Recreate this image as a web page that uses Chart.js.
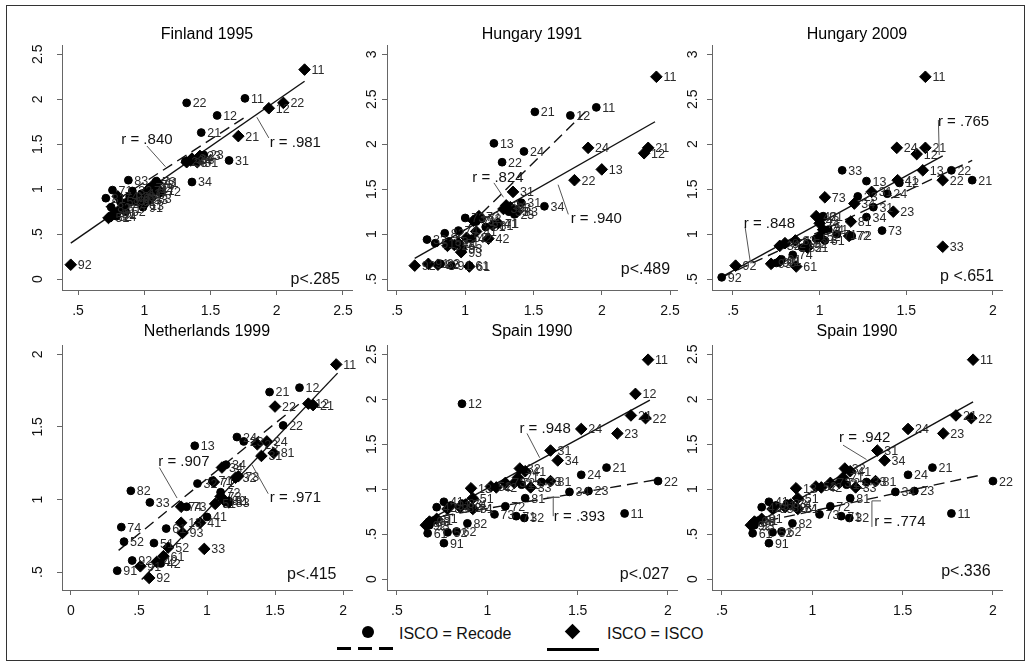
<!DOCTYPE html>
<html>
<head>
<meta charset="utf-8">
<script src="https://cdn.jsdelivr.net/npm/chart.js@4.4.1/dist/chart.umd.min.js"></script>
<style>
  body { margin: 0; background: #fff; width: 1031px; height: 667px; overflow: hidden; position: relative;
         font-family: "Liberation Sans", Arial, sans-serif; }
  #frame { position: absolute; left: 6px; top: 5px; width: 1017px; height: 654px; border: 1px solid #333; }
  canvas { position: absolute; }
  .leg { position: absolute; background: #000; }
  .legtxt { position: absolute; font-size: 16px; line-height: 18px; color: #111; white-space: nowrap; }
</style>
</head>
<body>
<div id="frame"></div>

<div class="leg" style="left:362px;top:626px;width:12px;height:12px;border-radius:50%"></div>
<div class="leg" style="left:337px;top:647px;width:14px;height:2.5px"></div>
<div class="leg" style="left:358px;top:647px;width:14px;height:2.5px"></div>
<div class="leg" style="left:379px;top:647px;width:14px;height:2.5px"></div>
<div class="legtxt" style="left:399px;top:625px">ISCO = Recode</div>
<div class="leg" style="left:567px;top:626px;width:11px;height:11px;transform:rotate(45deg)"></div>
<div class="leg" style="left:547px;top:648px;width:52px;height:2.5px"></div>
<div class="legtxt" style="left:607px;top:625px">ISCO = ISCO</div>

<script>
// tick values
const finXTicks = [0.5, 1, 1.5, 2, 2.5];
const finYTicks = [0, 0.5, 1, 1.5, 2, 2.5];
const hu91XTicks = [0.5, 1, 1.5, 2, 2.5];
const hu91YTicks = [0.5, 1, 1.5, 2, 2.5, 3];
const hu09XTicks = [0.5, 1, 1.5, 2];
const hu09YTicks = [0.5, 1, 1.5, 2, 2.5, 3];
const nlXTicks = [0, 0.5, 1, 1.5, 2];
const nlYTicks = [0.5, 1, 1.5, 2];
const esXTicks = [0.5, 1, 1.5, 2];
const esYTicks = [0, 0.5, 1, 1.5, 2, 2.5];

// [x, y, isco code]
const finRecode = [[1.76,2.01,'11'],[1.55,1.82,'12'],[1.32,1.96,'22'],[1.43,1.63,'21'],[1.64,1.32,'31'],
  [1.36,1.08,'34'],[0.88,1.10,'83'],[1.45,1.38,'23'],[1.31,1.31,'24'],[1.38,1.33,'33'],[1.09,1.09,'73'],
  [1.04,1.02,'72'],[1.08,0.98,'41'],[0.98,0.95,'42'],[0.91,0.98,'32'],[0.76,0.99,'71'],[0.71,0.90,'81'],
  [0.75,0.80,'82'],[0.82,0.86,'51'],[0.86,0.75,'52'],[0.79,0.70,'74'],[0.94,0.86,'61'],[0.99,0.80,'91'],
  [0.89,0.92,'93'],[1.03,0.88,'13']];
const finIsco = [[2.21,2.33,'11'],[1.94,1.90,'12'],[2.05,1.96,'22'],[1.71,1.59,'21'],[0.445,0.16,'92'],
  [1.42,1.37,'23'],[1.36,1.34,'24'],[1.40,1.30,'31'],[1.32,1.30,'33'],[1.35,1.32,'34'],[1.10,1.07,'41'],
  [1.06,1.02,'42'],[1.12,0.97,'72'],[1.07,1.05,'73'],[1.02,0.98,'71'],[0.98,0.92,'81'],[1.05,0.90,'83'],
  [0.75,0.70,'32'],[0.73,0.68,'52'],[0.82,0.78,'51'],[0.78,0.73,'61'],[0.86,0.84,'82'],[0.90,0.87,'91'],
  [0.94,0.90,'93'],[0.80,0.92,'74'],[0.99,0.82,'13']];
const finRecodeFit = [[0.71,0.80],[1.76,1.80]];
const finIscoFit = [[0.445,0.40],[2.21,2.20]];

const hu91Recode = [[1.96,2.41,'11'],[1.77,2.32,'12'],[1.51,2.36,'21'],[1.21,2.01,'13'],[1.43,1.92,'24'],
  [1.27,1.80,'22'],[1.58,1.31,'34'],[1.41,1.35,'31'],[1.32,1.25,'33'],[1.36,1.22,'23'],[1.24,1.12,'41'],
  [1.12,1.17,'72'],[1.08,1.14,'71'],[1.00,1.18,'73'],[0.95,1.04,'74'],[0.85,1.01,'82'],[0.72,0.94,'32'],
  [0.88,0.92,'52'],[0.98,0.84,'93'],[0.90,0.65,'91'],[1.03,0.65,'61'],[1.05,0.95,'42'],[0.78,0.90,'51'],
  [1.15,1.08,'81'],[0.82,0.67,'83']];
const hu91Isco = [[2.40,2.75,'11'],[2.31,1.90,'12'],[2.34,1.96,'21'],[1.90,1.96,'24'],[2.00,1.72,'13'],
  [1.80,1.60,'22'],[1.35,1.47,'31'],[1.30,1.32,'34'],[1.28,1.28,'33'],[1.33,1.30,'23'],[1.38,1.25,'83'],
  [1.24,1.12,'71'],[1.17,0.95,'42'],[1.20,1.10,'81'],[1.10,1.20,'72'],[1.06,1.15,'73'],[1.08,1.03,'41'],
  [1.01,0.96,'52'],[0.95,0.90,'51'],[0.87,0.87,'32'],[0.97,0.80,'93'],[0.63,0.65,'92'],[0.73,0.67,'91'],
  [0.80,0.66,'82'],[1.03,0.64,'61'],[0.92,0.88,'74']];
const hu91RecodeFit = [[0.85,0.83],[1.88,2.36]];
const hu91IscoFit = [[0.63,0.73],[2.39,2.25]];

const hu09Recode = [[1.88,1.60,'21'],[1.76,1.71,'22'],[1.46,1.57,'12'],[1.27,1.59,'13'],[1.13,1.71,'33'],
  [1.39,1.45,'24'],[1.31,1.30,'31'],[1.27,1.19,'34'],[1.36,1.04,'73'],[1.22,1.42,'23'],[1.185,0.98,'72'],
  [1.10,1.00,'71'],[1.05,1.05,'41'],[1.00,1.15,'42'],[0.98,0.95,'51'],[0.93,0.90,'52'],[0.845,0.77,'74'],
  [0.78,0.72,'91'],[0.435,0.52,'92'],[0.90,0.85,'82'],[1.02,1.20,'81'],[0.75,0.68,'93'],[1.03,0.93,'61']];
const hu09Isco = [[1.61,2.75,'11'],[1.445,1.96,'24'],[1.61,1.96,'21'],[1.56,1.89,'12'],[1.595,1.71,'13'],
  [1.71,1.60,'22'],[1.71,0.86,'33'],[1.425,1.25,'23'],[1.03,1.41,'73'],[1.18,1.14,'81'],[1.17,0.98,'72'],
  [1.20,1.34,'34'],[1.30,1.47,'31'],[1.45,1.60,'41'],[0.98,1.20,'42'],[1.00,1.12,'71'],[1.02,1.05,'74'],
  [1.00,0.97,'52'],[0.93,0.85,'51'],[0.86,0.93,'83'],[0.80,0.90,'82'],[0.77,0.87,'32'],[0.865,0.64,'61'],
  [0.72,0.67,'93'],[0.77,0.70,'91'],[0.515,0.65,'92']];
const hu09RecodeFit = [[0.435,0.52],[1.88,1.82]];
const hu09IscoFit = [[0.43,0.52],[1.71,1.87]];

const nlRecode = [[1.68,1.77,'12'],[1.46,1.74,'21'],[1.56,1.51,'22'],[1.22,1.43,'24'],[0.91,1.37,'13'],
  [1.14,1.24,'34'],[0.93,1.11,'32'],[0.44,1.06,'82'],[0.58,0.98,'33'],[0.37,0.81,'74'],[0.70,0.80,'61'],
  [0.39,0.71,'52'],[0.61,0.70,'51'],[0.45,0.58,'92'],[0.34,0.51,'91'],[1.04,1.13,'71'],[1.10,1.05,'72'],
  [1.16,0.99,'81'],[0.85,0.95,'73'],[1.27,1.40,'23'],[0.66,0.56,'42'],[1.00,0.88,'41']];
const nlIsco = [[1.95,1.93,'11'],[1.745,1.66,'12'],[1.78,1.65,'21'],[1.50,1.64,'22'],[1.44,1.40,'24'],
  [1.37,1.38,'23'],[1.40,1.30,'31'],[1.49,1.32,'81'],[1.11,1.22,'34'],[1.21,1.15,'32'],[1.23,1.16,'73'],
  [1.05,1.12,'71'],[1.10,1.02,'72'],[1.13,0.99,'82'],[1.16,0.98,'83'],[1.06,0.97,'51'],[0.81,0.95,'74'],
  [0.95,0.84,'41'],[0.81,0.84,'13'],[0.82,0.77,'93'],[0.98,0.66,'33'],[0.715,0.67,'52'],[0.68,0.61,'61'],
  [0.63,0.57,'42'],[0.51,0.54,'91'],[0.575,0.46,'92']];
const nlRecodeFit = [[0.35,0.65],[1.68,1.66]];
const nlIscoFit = [[0.52,0.45],[1.96,1.87]];

const esRecode = [[0.86,1.95,'12'],[1.945,1.09,'22'],[1.66,1.24,'21'],[1.52,1.16,'24'],[1.76,0.73,'11'],
  [1.56,0.98,'23'],[1.455,0.97,'34'],[1.21,0.90,'81'],[1.205,0.68,'32'],[1.10,0.81,'72'],[1.16,0.70,'71'],
  [1.04,0.72,'73'],[0.89,0.62,'82'],[0.83,0.53,'62'],[0.76,0.40,'91'],[0.67,0.51,'61'],[0.78,0.52,'52'],
  [0.76,0.86,'41'],[0.72,0.80,'42'],[0.80,0.82,'31'],[0.70,0.65,'51'],[1.30,1.08,'33'],[1.19,1.05,'13'],
  [0.92,0.78,'74'],[0.68,0.60,'93'],[0.86,0.84,'83']];
const esIsco = [[1.89,2.44,'11'],[1.82,2.06,'12'],[1.795,1.82,'21'],[1.876,1.79,'22'],[1.72,1.62,'23'],
  [1.52,1.67,'24'],[1.35,1.43,'31'],[1.39,1.32,'34'],[1.35,1.09,'81'],[1.24,1.02,'33'],[0.91,1.01,'13'],
  [1.05,1.02,'42'],[1.18,1.23,'32'],[1.21,1.20,'41'],[1.17,1.13,'71'],[1.15,1.07,'72'],[1.10,1.07,'73'],
  [1.02,1.03,'52'],[0.92,0.90,'51'],[0.88,0.83,'74'],[0.78,0.78,'83'],[0.85,0.80,'82'],[0.72,0.67,'91'],
  [0.66,0.60,'92'],[0.68,0.64,'93'],[0.92,0.78,'61']];
const esRecodeFit = [[0.66,0.67],[1.965,1.115]];
const esIscoFit = [[0.66,0.64],[1.90,1.99]];

const es2Recode = [[2.00,1.09,'22'],[1.665,1.24,'21'],[1.53,1.16,'24'],[1.77,0.73,'11'],[1.565,0.98,'23'],
  [1.46,0.97,'34'],[1.21,0.90,'81'],[1.205,0.68,'32'],[1.10,0.81,'72'],[1.16,0.70,'71'],[1.04,0.72,'73'],
  [0.89,0.62,'82'],[0.83,0.53,'62'],[0.76,0.40,'91'],[0.67,0.51,'61'],[0.78,0.52,'52'],[0.76,0.86,'41'],
  [0.72,0.80,'42'],[0.80,0.82,'31'],[0.70,0.65,'51'],[1.30,1.08,'33'],[1.19,1.05,'13'],[0.92,0.78,'74'],
  [0.68,0.60,'93'],[0.86,0.84,'83']];
const es2Isco = [[1.89,2.44,'11'],[1.795,1.82,'21'],[1.88,1.79,'22'],[1.725,1.62,'23'],[1.53,1.67,'24'],
  [1.36,1.43,'31'],[1.40,1.32,'34'],[1.35,1.09,'81'],[1.24,1.02,'33'],[0.91,1.01,'13'],[1.05,1.02,'42'],
  [1.18,1.23,'32'],[1.21,1.20,'41'],[1.17,1.13,'71'],[1.15,1.07,'72'],[1.10,1.07,'73'],[1.02,1.03,'52'],
  [0.92,0.90,'51'],[0.88,0.83,'74'],[0.78,0.78,'83'],[0.85,0.80,'82'],[0.72,0.67,'91'],[0.66,0.60,'92'],
  [0.68,0.64,'93'],[0.92,0.78,'61']];
const es2RecodeFit = [[0.66,0.61],[1.94,1.16]];
const es2IscoFit = [[0.66,0.59],[1.89,1.97]];

const panels = [
  { title: 'Finland 1995', left: 10, top: 8, row: 0, yPad: 9, x: [0.379, 2.568], y: [-0.121, 2.599],
    xTicks: finXTicks, yTicks: finYTicks, recode: finRecode, isco: finIsco, recodeFit: finRecodeFit, iscoFit: finIscoFit,
    notes: [{ t: 'r = .840', at: [1.02, 1.55], line: [[1.02, 1.48], [1.16, 1.25]] },
            { t: 'r = .981', at: [2.14, 1.52], line: [[1.94, 1.57], [1.85, 1.80]] }],
    pv: { t: 'p<.285', at: [2.29, 0.0] } },
  { title: 'Hungary 1991', left: 335, top: 8, row: 0, yPad: 0, x: [0.427, 2.551], y: [0.379, 3.099],
    xTicks: hu91XTicks, yTicks: hu91YTicks, recode: hu91Recode, isco: hu91Isco, recodeFit: hu91RecodeFit, iscoFit: hu91IscoFit,
    notes: [{ t: 'r = .824', at: [1.24, 1.63], line: [[1.21, 1.57], [1.28, 1.41]] },
            { t: 'r = .940', at: [1.96, 1.17], line: [[1.755, 1.22], [1.68, 1.55]] }],
    pv: { t: 'p<.489', at: [2.32, 0.61] } },
  { title: 'Hungary 2009', left: 660, top: 8, row: 0, yPad: 4, x: [0.379, 2.052], y: [0.379, 3.099],
    xTicks: hu09XTicks, yTicks: hu09YTicks, recode: hu09Recode, isco: hu09Isco, recodeFit: hu09RecodeFit, iscoFit: hu09IscoFit,
    notes: [{ t: 'r = .765', at: [1.83, 2.25], line: [[1.685, 2.27], [1.69, 1.88]] },
            { t: 'r = .848', at: [0.71, 1.11], line: [[0.57, 1.08], [0.60, 0.69]] }],
    pv: { t: 'p <.651', at: [1.85, 0.53] } },
  { title: 'Netherlands 1999', left: 10, top: 308, row: 1, yPad: 9, x: [-0.066, 2.066], y: [0.377, 2.061],
    xTicks: nlXTicks, yTicks: nlYTicks, recode: nlRecode, isco: nlIsco, recodeFit: nlRecodeFit, iscoFit: nlIscoFit,
    notes: [{ t: 'r = .907', at: [0.83, 1.26], line: [[0.65, 1.22], [0.78, 1.01]] },
            { t: 'r = .971', at: [1.65, 1.01], line: [[1.45, 1.04], [1.33, 1.24]] }],
    pv: { t: 'p<.415', at: [1.77, 0.48] } },
  { title: 'Spain 1990', left: 335, top: 308, row: 1, yPad: 0, x: [0.445, 2.05], y: [-0.121, 2.599],
    xTicks: esXTicks, yTicks: esYTicks, recode: esRecode, isco: esIsco, recodeFit: esRecodeFit, iscoFit: esIscoFit,
    notes: [{ t: 'r = .948', at: [1.32, 1.67], line: [[1.22, 1.62], [1.29, 1.35]] },
            { t: 'r = .393', at: [1.51, 0.69], line: [[1.33, 0.91], [1.40, 0.91], [1.365, 0.91], [1.365, 0.70]] }],
    pv: { t: 'p<.027', at: [1.87, 0.05] } },
  { title: 'Spain 1990', left: 660, top: 308, row: 1, yPad: 4, x: [0.445, 2.05], y: [-0.121, 2.599],
    xTicks: esXTicks, yTicks: esYTicks, recode: es2Recode, isco: es2Isco, recodeFit: es2RecodeFit, iscoFit: es2IscoFit,
    notes: [{ t: 'r = .942', at: [1.29, 1.57], line: [[1.17, 1.49], [1.30, 1.33]] },
            { t: 'r = .774', at: [1.485, 0.64], line: [[1.38, 0.87], [1.33, 0.87], [1.33, 0.58]] }],
    pv: { t: 'p<.336', at: [1.85, 0.08] } }
];

Chart.defaults.font.family = '"Liberation Sans", Arial, sans-serif';
Chart.defaults.color = '#111';

function fmt(v) {
  return String(v).replace(/^0\./, '.');
}

function makePanel(p) {
  const c = document.createElement('canvas');
  c.width = 356;
  c.height = 312;
  c.style.left = p.left + 'px';
  c.style.top = p.top + 'px';
  document.body.appendChild(c);

  const toXY = arr => arr.map(d => ({ x: d[0], y: d[1] }));

  // point labels + r / p annotations
  const textLayer = {
    id: 'textLayer',
    afterDatasetsDraw(chart) {
      const ctx = chart.ctx;
      const xs = chart.scales.x, ys = chart.scales.y;
      const px = v => xs.getPixelForValue(v);
      const py = v => ys.getPixelForValue(v);
      ctx.save();
      ctx.font = '12.5px "Liberation Sans", Arial, sans-serif';
      ctx.fillStyle = '#2a2a2a';
      ctx.textBaseline = 'middle';
      [p.recode, p.isco].forEach((series, i) => {
        const gap = i === 0 ? 6 : 7;
        chart.getDatasetMeta(i).data.forEach((el, j) => {
          ctx.fillText(series[j][2], el.x + gap, el.y + 1);
        });
      });
      ctx.strokeStyle = '#555';
      ctx.lineWidth = 1;
      p.notes.forEach(n => {
        ctx.beginPath();
        n.line.forEach((pt, k) => {
          if (k === 0) ctx.moveTo(px(pt[0]), py(pt[1]));
          else ctx.lineTo(px(pt[0]), py(pt[1]));
        });
        ctx.stroke();
      });
      ctx.fillStyle = '#111';
      ctx.textAlign = 'center';
      ctx.font = '15px "Liberation Sans", Arial, sans-serif';
      p.notes.forEach(n => {
        ctx.fillText(n.t, px(n.at[0]), py(n.at[1]));
      });
      ctx.font = '16px "Liberation Sans", Arial, sans-serif';
      ctx.fillText(p.pv.t, px(p.pv.at[0]), py(p.pv.at[1]));
      ctx.restore();
    }
  };

  const axisGrid = { drawOnChartArea: false, drawTicks: true, tickLength: 5, color: '#666', lineWidth: 1 };

  new Chart(c, {
    type: 'scatter',
    data: {
      datasets: [
        { label: 'ISCO = Recode', data: toXY(p.recode), pointStyle: 'circle', pointRadius: 3.9,
          backgroundColor: '#000', borderColor: '#000', borderWidth: 1 },
        { label: 'ISCO = ISCO', data: toXY(p.isco), pointStyle: 'rectRot', pointRadius: 5.8,
          backgroundColor: '#000', borderColor: '#000', borderWidth: 1 },
        { type: 'line', data: toXY(p.recodeFit), borderColor: '#111', borderWidth: 1.4,
          borderDash: [11, 6], pointRadius: 0, fill: false },
        { type: 'line', data: toXY(p.iscoFit), borderColor: '#111', borderWidth: 1.4,
          pointRadius: 0, fill: false }
      ]
    },
    options: {
      responsive: false,
      animation: false,
      events: [],
      devicePixelRatio: 1,
      layout: { padding: { left: 0, right: 14, top: 0, bottom: 0 } },
      plugins: {
        legend: { display: false },
        tooltip: { enabled: false },
        title: {
          display: true, text: p.title, fullSize: false, color: '#000',
          font: { size: 16, weight: 'normal' },
          padding: p.row === 0 ? { top: 16.6, bottom: 1.6 } : { top: 13.6, bottom: 4.6 }
        }
      },
      scales: {
        x: {
          type: 'linear', min: p.x[0], max: p.x[1],
          afterBuildTicks: s => { s.ticks = p.xTicks.map(v => ({ value: v })); },
          afterFit: s => { s.height = 30; },
          ticks: { callback: fmt, autoSkip: false, maxRotation: 0, padding: 8, font: { size: 14 }, color: '#111' },
          grid: axisGrid,
          border: { display: true, color: '#666', width: 1 }
        },
        y: {
          type: 'linear', min: p.y[0], max: p.y[1],
          afterBuildTicks: s => { s.ticks = p.yTicks.map(v => ({ value: v })); },
          afterFit: s => { s.width = 52; },
          ticks: { callback: fmt, autoSkip: false, minRotation: 90, maxRotation: 90, crossAlign: 'center',
                   padding: p.yPad, font: { size: 14 }, color: '#111' },
          grid: axisGrid,
          border: { display: true, color: '#666', width: 1 }
        }
      }
    },
    plugins: [textLayer]
  });
}

panels.forEach(makePanel);
</script>
</body>
</html>
